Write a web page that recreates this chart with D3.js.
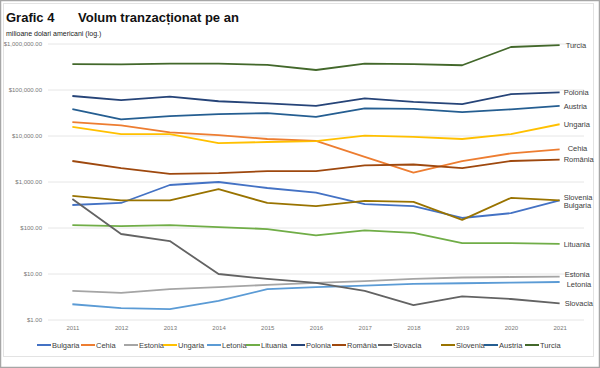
<!DOCTYPE html>
<html lang="ro">
<head>
<meta charset="utf-8">
<title>Grafic 4</title>
<script src="https://cdn.jsdelivr.net/npm/d3@7"></script>
<style>
body { margin: 0; background: #fff; font-family: "Liberation Sans", Arial, sans-serif; }
svg text { font-family: "Liberation Sans", Arial, sans-serif; }
</style>
</head>
<body>
<script>
// date (milioane USD)
var years = ["2011","2012","2013","2014","2015","2016","2017","2018","2019","2020","2021"];
var names = ["Bulgaria","Cehia","Estonia","Ungaria","Letonia","Lituania","Polonia","România","Slovacia","Slovenia","Austria","Turcia"];
var bulgaria = [316, 350, 860, 1000, 740, 590, 330, 300, 165, 210, 400];
var cehia    = [20000, 17000, 12000, 10500, 8600, 7800, 3500, 1600, 2850, 4200, 5100];
var estonia  = [4.3, 3.9, 4.7, 5.2, 5.8, 6.4, 7.0, 7.8, 8.4, 8.6, 8.8];
var ungaria  = [15800, 11000, 11000, 7000, 7400, 7700, 10200, 9600, 8600, 11000, 18000];
var letonia  = [2.2, 1.82, 1.73, 2.6, 4.7, 5.2, 5.6, 6.1, 6.3, 6.5, 6.7];
var lituania = [116, 110, 116, 105, 95, 69, 89, 78, 47, 47, 45];
var polonia  = [74000, 60000, 72000, 57000, 51000, 45000, 66000, 55000, 49500, 81000, 89000];
var romania  = [2860, 2000, 1500, 1560, 1720, 1720, 2300, 2400, 2000, 2860, 3050];
var slovacia = [426, 74, 52, 10, 7.8, 6.4, 4.3, 2.1, 3.25, 2.86, 2.3];
var slovenia = [500, 400, 400, 700, 350, 300, 390, 370, 150, 450, 400];
var austria  = [38600, 23000, 27000, 30000, 31500, 26000, 40000, 39000, 33000, 38000, 45000];
var turcia   = [367000, 360000, 375000, 375000, 350000, 272000, 375000, 365000, 345000, 860000, 950000];
var yTicks = [1, 10, 100, 1000, 10000, 100000, 1000000];

var seriesValues = [bulgaria, cehia, estonia, ungaria, letonia, lituania, polonia, romania, slovacia, slovenia, austria, turcia];
var colors = ["#4472C4","#ED7D31","#A5A5A5","#FFC000","#5B9BD5","#70AD47","#264478","#9E480E","#636363","#997300","#255E91","#43682B"];
// deplasare a etichetelor de la capat
var labelDy = [5, -1, -2, 0, 2, 0, 0, 0, 0, -3, 0, 0];
var labelDx = [4, 8, 5, 4, 7, 4, 4, 4, 5, 4, 4, 6];

var W = 600, H = 368;
var svg = d3.select("body").append("svg").attr("width", W).attr("height", H);

svg.append("rect").attr("x", 0.5).attr("y", 0.5).attr("width", W - 1).attr("height", H - 1)
    .attr("fill", "#fff").attr("stroke", "#a6a6a6").attr("stroke-width", 1.5);
svg.append("rect").attr("x", 3.5).attr("y", 3.5).attr("width", 590).attr("height", 353)
    .attr("fill", "none").attr("stroke", "#e3e3e3");

svg.append("text").attr("x", 6).attr("y", 22).attr("font-size", 13).attr("font-weight", "bold")
    .attr("fill", "#111").text("Grafic 4");
svg.append("text").attr("x", 78).attr("y", 22).attr("font-size", 13).attr("font-weight", "bold")
    .attr("fill", "#111").text("Volum tranzacționat pe an");
svg.append("text").attr("x", 6).attr("y", 36).attr("font-size", 7)
    .attr("fill", "#222").text("milioane dolari americani (log.)");

var x = d3.scalePoint().domain(years).range([48, 584]).padding(0.5);
var y = d3.scaleLog().domain([1, 1000000]).range([320, 44]);

// grila
svg.append("g").selectAll("line").data(yTicks).enter().append("line")
    .attr("x1", 48).attr("x2", 584)
    .attr("y1", function(d) { return y(d); }).attr("y2", function(d) { return y(d); })
    .attr("stroke", "#e6e6e6").attr("stroke-width", 1);

var fmt = d3.format("$,.2f");
var yAxis = svg.append("g").attr("transform", "translate(42,0)")
    .call(d3.axisLeft(y).tickValues(yTicks).tickFormat(fmt).tickSize(0).tickPadding(0));
yAxis.select(".domain").remove();
yAxis.selectAll("text").attr("font-size", 6).attr("fill", "#777");

var xAxis = svg.append("g").attr("transform", "translate(0,326)")
    .call(d3.axisBottom(x).tickSize(0).tickPadding(0));
xAxis.select(".domain").remove();
xAxis.selectAll("text").attr("font-size", 6).attr("fill", "#777");

var line = d3.line()
    .x(function(d, i) { return x(years[i]); })
    .y(function(d) { return y(d); });

svg.append("g").selectAll("path").data(seriesValues).enter().append("path")
    .attr("d", line)
    .attr("fill", "none")
    .attr("stroke", function(d, i) { return colors[i]; })
    .attr("stroke-width", 1.8)
    .attr("stroke-linejoin", "round");

// etichete la capatul liniilor
var last = years[years.length - 1];
svg.append("g").selectAll("text").data(seriesValues).enter().append("text")
    .attr("x", function(d, i) { return x(last) + labelDx[i]; })
    .attr("y", function(d, i) { return y(d[d.length - 1]) + labelDy[i]; })
    .attr("dy", "0.35em")
    .attr("font-size", 7.5)
    .attr("fill", "#404040")
    .text(function(d, i) { return names[i]; });

// legenda
var legendX = [37, 81, 124, 163, 207, 246, 291, 332, 378, 441, 484, 525];
var leg = svg.append("g").selectAll("g").data(names).enter().append("g")
    .attr("transform", function(d, i) { return "translate(" + legendX[i] + ",345)"; });
leg.append("line").attr("x1", 0).attr("x2", 14)
    .attr("stroke", function(d, i) { return colors[i]; }).attr("stroke-width", 2);
leg.append("text").attr("x", 15).attr("dy", "0.35em").attr("font-size", 7.5)
    .attr("fill", "#404040").text(function(d) { return d; });
</script>
</body>
</html>
